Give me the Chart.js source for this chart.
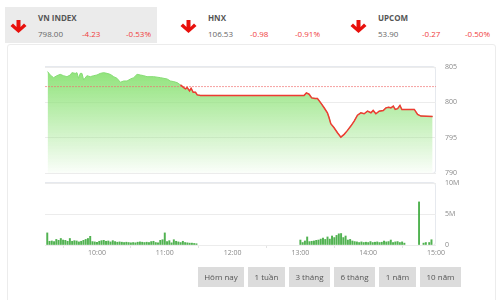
<!DOCTYPE html>
<html lang="vi">
<head>
<meta charset="UTF-8">
<title>VN INDEX</title>
<style>
  html, body { margin: 0; padding: 0; background: #fff; font-family: 'Open Sans', sans-serif; }
  .wrap { position: relative; width: 500px; height: 300px; overflow: hidden; }
  .tab { position: absolute; top: 7px; width: 152px; height: 36px; }
  .tab.active { background: #ebebeb; }
  .tab svg { position: absolute; left: 5px; top: 13px; }
  .tab .name { position: absolute; left: 33px; top: 5px; font-size: 8px; font-weight: bold; color: #555; }
  .tab .num { position: absolute; top: 21px; font-size: 8px; color: #666; }
  .tab .down { color: #f03c3c; }
  .panel { position: absolute; left: 7px; top: 44px; width: 487px; height: 270px; border: 1px solid #ececec; border-radius: 3px; }
  .plotbox { position: absolute; left: 45px; width: 390px; border: 1px solid #e6e9ee; border-left: none; border-radius: 0 4px 4px 0; }
  canvas { position: absolute; left: 40px; }
  .btns { position: absolute; top: 267px; left: 198px; display: flex; gap: 4px; }
  .btns div { height: 20px; line-height: 20px; background: #dcdcdc; color: #555; font-size: 8px; text-align: center; }
</style>
<script src="https://cdn.jsdelivr.net/npm/chart.js"></script>
</head>
<body>
<div class="wrap">
  <div class="panel"></div>

  <div class="tab active" style="left:5px">
    <svg width="17" height="13" viewBox="0 0 17 13"><path d="M6.5 0H10.5V7L14 3.5L16.5 6L8.5 13L0.5 6L3 3.5L6.5 7Z" fill="#e8100c"/></svg>
    <div class="name">VN INDEX</div>
    <div class="num" style="left:33px">798.00</div>
    <div class="num down" style="left:77px">-4.23</div>
    <div class="num down" style="left:121px">-0.53%</div>
  </div>
  <div class="tab" style="left:175px">
    <svg width="17" height="13" viewBox="0 0 17 13"><path d="M6.5 0H10.5V7L14 3.5L16.5 6L8.5 13L0.5 6L3 3.5L6.5 7Z" fill="#e8100c"/></svg>
    <div class="name">HNX</div>
    <div class="num" style="left:33px">106.53</div>
    <div class="num down" style="left:75px">-0.98</div>
    <div class="num down" style="left:120px">-0.91%</div>
  </div>
  <div class="tab" style="left:345px">
    <svg width="17" height="13" viewBox="0 0 17 13"><path d="M6.5 0H10.5V7L14 3.5L16.5 6L8.5 13L0.5 6L3 3.5L6.5 7Z" fill="#e8100c"/></svg>
    <div class="name">UPCOM</div>
    <div class="num" style="left:33px">53.90</div>
    <div class="num down" style="left:77px">-0.27</div>
    <div class="num down" style="left:120px">-0.50%</div>
  </div>

  <div class="plotbox" style="top:66px;height:106px"></div>
  <div class="plotbox" style="top:182px;height:62px"></div>
  <canvas id="priceChart" width="440" height="120" style="top:60px"></canvas>
  <canvas id="volumeChart" width="440" height="90" style="top:176px"></canvas>

  <div class="btns">
    <div style="width:46px">Hôm nay</div>
    <div style="width:37px">1 tuần</div>
    <div style="width:41px">3 tháng</div>
    <div style="width:41px">6 tháng</div>
    <div style="width:37px">1 năm</div>
    <div style="width:41px">10 năm</div>
  </div>
</div>

<script>
// time in minutes after midnight (9:14 .. 15:00)
const xMin = 554;
const xMax = 900;
const tickTimes = [600, 660, 720, 780, 840, 900];
const tickLabels = ['10:00', '11:00', '12:00', '13:00', '14:00', '15:00'];

const priceTicks = [790, 795, 800, 805];
const volumeTicks = [0, 5, 10];
const volumeTickLabels = ['0', '5M', '10M'];

const refValue = 802.23; // previous close

const lineTimes = [
  556.3, 558.6, 561.6, 564.5, 567.5, 570.4, 573.4, 576.4, 577.8, 580.8,
  582.3, 583.7, 585.2, 586.7, 588.2, 591.1, 594.1, 597.0, 600.0, 603.0,
  605.9, 608.9, 611.8, 614.8, 617.7, 620.7, 623.6, 626.6, 629.6, 632.5,
  635.5, 638.4, 641.4, 644.3, 650.2, 656.2, 662.1, 665.0, 668.0, 670.9,
  673.9, 676.8, 678.3, 679.8, 681.9, 683.3, 685.1, 687.2, 688.7, 691.6,
  776.0, 783.2, 785.3, 787.7, 790.0, 793.0, 795.1, 798.0, 801.0, 803.9,
  805.4, 806.9, 809.8, 812.8, 815.8, 818.7, 821.7, 824.6, 827.6, 830.5,
  833.5, 836.4, 839.4, 842.4, 844.4, 846.8, 849.7, 853.3, 855.7, 858.0,
  860.1, 862.2, 863.9, 866.0, 868.1, 869.8, 873.4, 880.8, 883.7, 886.7,
  897.0
];
const lineValues = [
  804.35, 803.87, 803.49, 803.77, 803.96, 803.77, 803.63, 803.87, 804.20, 804.10,
  804.20, 803.40, 804.10, 804.10, 803.17, 803.77, 803.63, 803.77, 803.87, 804.10,
  804.20, 804.10, 803.96, 803.63, 803.40, 802.84, 803.02, 803.02, 803.30, 803.49,
  803.96, 803.87, 803.77, 803.63, 803.63, 803.49, 803.30, 803.02, 802.93, 802.79,
  802.46, 802.08, 801.90, 802.08, 801.62, 801.99, 801.43, 801.43, 801.05, 800.98,
  800.95, 800.95, 801.33, 801.15, 800.63, 800.55, 800.55, 799.93, 799.23, 798.52,
  797.82, 796.97, 796.40, 795.70, 795.08, 795.47, 796.03, 796.64, 797.34, 798.18,
  798.52, 798.38, 798.75, 798.52, 798.85, 798.38, 798.75, 798.85, 799.22, 799.30,
  799.22, 799.46, 798.99, 799.10, 799.55, 798.99, 798.99, 799.00, 798.28, 798.05,
  798.00
];

// volume, millions
const volumeTimes = [
  556, 558, 560, 562, 564, 566, 568, 570, 572, 574, 576, 578, 580, 582, 584, 586,
  588, 590, 592, 594, 596, 598, 600, 602, 604, 606, 608, 610, 612, 614, 616, 618,
  620, 622, 624, 626, 628, 630, 632, 634, 636, 638, 640, 642, 644, 646, 648, 650,
  652, 654, 656, 658, 660, 662, 664, 666, 668, 670, 672, 674, 676, 678, 680, 682,
  684, 686, 688,
  780, 782, 784, 786, 788, 790, 792, 794, 796, 798, 800, 802, 804, 806, 808, 810,
  812, 814, 816, 818, 820, 822, 824, 826, 828, 830, 832, 834, 836, 838, 840, 842,
  844, 846, 848, 850, 852, 854, 856, 858, 860, 862, 864, 866, 868, 870, 872,
  885, 889, 891, 894, 896
];
const volumeValues = [
  1.95, 0.60, 0.65, 0.55, 0.90, 0.75, 1.05, 0.80, 0.75, 0.60, 1.05, 0.60, 0.70, 0.65, 0.50, 0.60,
  0.75, 0.90, 1.05, 1.40, 0.55, 0.50, 0.45, 0.60, 0.70, 0.75, 0.60, 0.65, 0.50, 0.70, 0.55, 0.45,
  0.50, 0.45, 0.40, 0.45, 0.40, 0.35, 0.40, 0.35, 0.45, 0.50, 0.45, 0.40, 0.45, 0.40, 0.55, 0.60,
  0.40, 0.35, 0.75, 0.85, 1.95, 0.55, 0.70, 0.35, 0.85, 0.60, 0.50, 0.40, 0.60, 0.40, 0.35, 0.30,
  0.30, 0.25, 0.20,
  0.80, 0.40, 0.65, 1.30, 0.55, 0.60, 0.65, 0.75, 0.80, 0.95, 1.10, 0.90, 1.30, 0.95, 1.45, 1.20,
  1.55, 1.80, 1.85, 1.20, 1.45, 0.80, 0.90, 0.65, 0.55, 0.50, 0.40, 0.50, 0.40, 0.45, 0.40, 0.55,
  0.40, 0.45, 0.50, 0.40, 0.45, 0.65, 0.50, 0.55, 0.80, 0.40, 0.50, 0.55, 0.40, 0.50, 0.30,
  6.95, 0.30, 0.40, 0.40, 0.85
];

const tickFont = { family: 'Open Sans', size: 7 };
const green = '#86dc74';
const red = '#ee3b33';

const pricePoints = lineTimes.map((t, i) => ({ x: t, y: lineValues[i] }));
const volumePoints = volumeTimes.map((t, i) => ({ x: t, y: volumeValues[i] }));

// keep the plot area exactly where the layout padding puts it
function noPad(s) {
  s.paddingTop = 0;
  s.paddingBottom = 0;
  s.paddingLeft = 0;
  s.paddingRight = 0;
}

new Chart(document.getElementById('priceChart'), {
  type: 'line',
  data: {
    datasets: [
      // red line where the index is below the previous close
      {
        data: pricePoints,
        borderWidth: 1.5,
        pointRadius: 0,
        fill: false,
        borderColor: red,
        segment: {
          borderColor: ctx => (ctx.p0.parsed.y >= refValue && ctx.p1.parsed.y >= refValue) ? 'rgba(0,0,0,0)' : red
        }
      },
      // previous close
      {
        data: [{ x: xMin, y: refValue }, { x: xMax, y: refValue }],
        borderColor: 'rgba(240,110,110,0.65)',
        borderWidth: 1,
        borderDash: [2, 1],
        pointRadius: 0,
        fill: false
      },
      // green area
      {
        data: pricePoints,
        borderWidth: 1,
        borderColor: green,
        pointRadius: 0,
        fill: 'start',
        backgroundColor: ctx => {
          const a = ctx.chart.chartArea;
          if (!a) return 'rgba(140,226,118,0.5)';
          const g = ctx.chart.ctx.createLinearGradient(0, a.top, 0, a.bottom);
          g.addColorStop(0, 'rgba(140,226,118,1)');
          g.addColorStop(1, 'rgba(140,226,118,0.04)');
          return g;
        }
      }
    ]
  },
  options: {
    responsive: false,
    animation: false,
    layout: { padding: { left: 5, top: 7, bottom: 7, right: 0 } },
    plugins: { legend: { display: false }, tooltip: { enabled: false } },
    scales: {
      x: { type: 'linear', min: xMin, max: xMax, display: false },
      y: {
        position: 'right',
        min: 790,
        max: 805,
        afterBuildTicks: s => { s.ticks = priceTicks.map(v => ({ value: v })); },
        afterFit: s => { s.width = 44; noPad(s); },
        grid: { color: '#ececec', drawTicks: false },
        border: { display: false },
        ticks: { padding: 9, color: '#888', font: tickFont }
      }
    }
  }
});

new Chart(document.getElementById('volumeChart'), {
  type: 'bar',
  data: {
    datasets: [{
      data: volumePoints,
      backgroundColor: 'rgba(62,170,62,0.9)',
      barThickness: 1.3
    }]
  },
  options: {
    responsive: false,
    animation: false,
    layout: { padding: { left: 5, top: 7, bottom: 0, right: 0 } },
    plugins: { legend: { display: false }, tooltip: { enabled: false } },
    scales: {
      x: {
        type: 'linear',
        min: xMin,
        max: xMax,
        offset: false,
        afterBuildTicks: s => { s.ticks = tickTimes.map(v => ({ value: v })); },
        afterFit: s => { s.height = 21; noPad(s); },
        grid: { display: true, drawOnChartArea: false, tickLength: 3, color: '#e3e3e3' },
        border: { display: false },
        ticks: {
          padding: 1, color: '#888', font: tickFont, maxRotation: 0, autoSkip: false,
          callback: (v, i) => tickLabels[i]
        }
      },
      y: {
        position: 'right',
        min: 0,
        max: 10,
        afterBuildTicks: s => { s.ticks = volumeTicks.map(v => ({ value: v })); },
        afterFit: s => { s.width = 44; noPad(s); },
        grid: { color: '#ececec', drawTicks: false },
        border: { display: false },
        ticks: { padding: 9, color: '#888', font: tickFont, callback: (v, i) => volumeTickLabels[i] }
      }
    }
  }
});
</script>
</body>
</html>
